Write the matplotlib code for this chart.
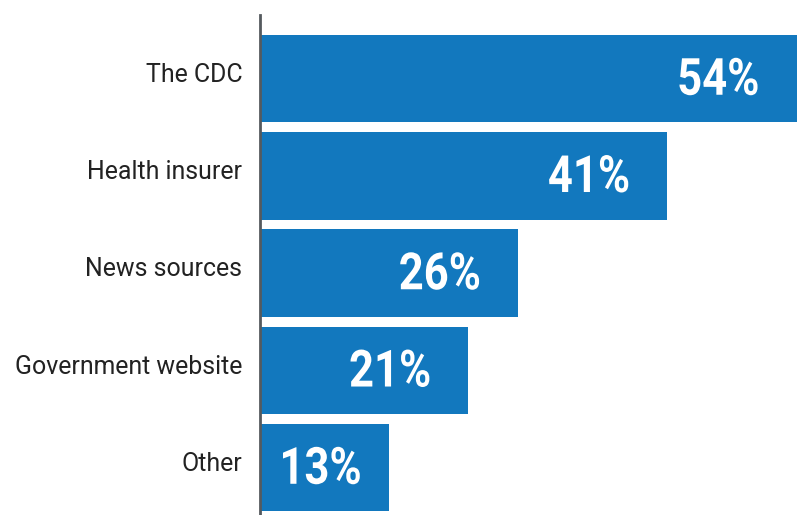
import matplotlib.pyplot as plt
from matplotlib.textpath import TextPath
from matplotlib.patches import PathPatch
from matplotlib.font_manager import FontProperties
import matplotlib.transforms as mtransforms

categories = ["The CDC", "Health insurer", "News sources", "Government website", "Other"]
values = [54, 41, 26, 21, 13]
value_labels = ["54%", "41%", "26%", "21%", "13%"]

bar_color = "#1278be"

fig = plt.figure(figsize=(7.99, 5.15), dpi=100)
ax = fig.add_axes([259.5 / 799, 0, 1 - 259.5 / 799, 1 - 15 / 515])

ypos = list(range(len(categories)))
ax.barh(ypos, values, height=0.9, color=bar_color, zorder=2)

ax.set_xlim(0, 54.25)
ax.set_ylim(4.488, -0.653)
ax.set_xticks([])
ax.set_yticks([])

for side in ["top", "right", "bottom"]:
    ax.spines[side].set_visible(False)
ax.spines["left"].set_color("#555a5e")
ax.spines["left"].set_linewidth(2)

# category labels, baseline a few px below the bar centre
lab_trans = mtransforms.offset_copy(ax.transData, fig=fig, x=-12.5, y=-2.5, units="points")
for y, cat in zip(ypos, categories):
    ax.text(0, y, cat, transform=lab_trans, ha="right", va="baseline",
            fontfamily="Roboto", fontsize=17.9, color="#222222")

# value labels: bold text squeezed to look condensed
prop = FontProperties(family="Roboto", weight="bold")
target_h = 37.5   # digit height in px
sx_ratio = 0.85   # horizontal squeeze
px_per_unit = (799 - 259.5) / 54.25
for y, v, lab in zip(ypos, values, value_labels):
    tp = TextPath((0, 0), lab, size=50, prop=prop)
    ext = tp.get_extents()
    sy = target_h / ext.height
    sx = sy * sx_ratio
    w = ext.width * sx
    right_px = v * px_per_unit - 39
    left_px = right_px - w
    if left_px < 23.5:
        left_px = 23.5
    x_data = left_px / px_per_unit
    trans = (mtransforms.Affine2D()
             .translate(-ext.x0, -ext.y0 - ext.height / 2)
             .scale(sx, sy)
             .translate(0, 2)
             + mtransforms.ScaledTranslation(x_data, y, ax.transData))
    ax.add_patch(PathPatch(tp, transform=trans, facecolor="white",
                           edgecolor="none", zorder=3))

fig.savefig("out.png", dpi=100)
